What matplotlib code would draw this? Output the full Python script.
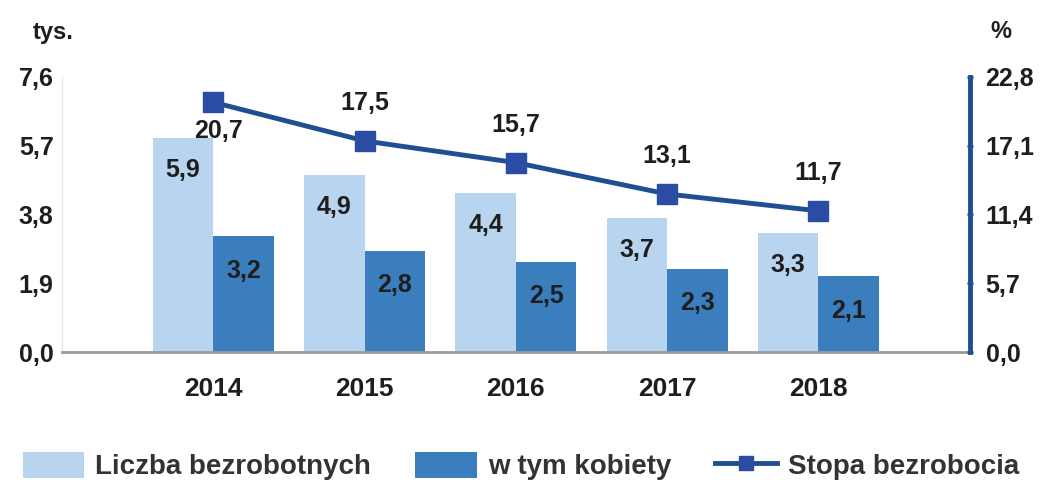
import matplotlib
matplotlib.use("Agg")
import matplotlib.pyplot as plt
from matplotlib.patches import Patch
from matplotlib.lines import Line2D

years = ["2014", "2015", "2016", "2017", "2018"]
bezrobotni = [5.9, 4.9, 4.4, 3.7, 3.3]
kobiety = [3.2, 2.8, 2.5, 2.3, 2.1]
stopa = [20.7, 17.5, 15.7, 13.1, 11.7]
left_ticks = [0.0, 1.9, 3.8, 5.7, 7.6]
right_ticks = [0.0, 5.7, 11.4, 17.1, 22.8]

def fmt(v):
    return f"{v:.1f}".replace(".", ",")

LIGHT = "#b9d4ee"
DARK = "#3b7ebe"
LINE = "#1f4f91"
MARK = "#2b4ca3"
TXT = "#1e1e1e"

plt.rcParams['font.family'] = ['Liberation Sans', 'DejaVu Sans']

fig = plt.figure(figsize=(10.46, 4.84), dpi=100)
ax = fig.add_axes([0.0593, 0.2727, 0.8677, 0.5683])
ax2 = ax.twinx()

x = list(range(len(years)))
w = 0.4
xl = [i - w / 2 for i in x]
xd = [i + w / 2 for i in x]
ax.bar(xl, bezrobotni, width=w, color=LIGHT, zorder=2)
ax.bar(xd, kobiety, width=w, color=DARK, zorder=2)

for xi, v in zip(xl, bezrobotni):
    ax.annotate(fmt(v), (xi, v), xytext=(0, -23), textcoords="offset points",
                ha="center", va="center", fontsize=18, fontweight="bold", color=TXT)
for xi, v in zip(xd, kobiety):
    ax.annotate(fmt(v), (xi, v), xytext=(0, -25), textcoords="offset points",
                ha="center", va="center", fontsize=18, fontweight="bold", color=TXT)

ax2.plot(x, stopa, color=LINE, lw=3.5, marker="s", markersize=14,
         markerfacecolor=MARK, markeredgecolor=MARK, zorder=5)
for i, v in enumerate(stopa):
    if i == 0:
        off = (4, -21)
    else:
        off = (0, 27)
    ax2.annotate(fmt(v), (i, v), xytext=off, textcoords="offset points",
                 ha="center", va="center", fontsize=18, fontweight="bold", color=TXT)

ax.set_xlim(-1, 5)
ax.set_ylim(0, 7.6)
ax2.set_ylim(0, 22.8)
ax.set_xticks(x)
ax.set_xticklabels(years, fontsize=19, fontweight="bold", color=TXT)
ax.set_yticks(left_ticks)
ax.set_yticklabels([fmt(t) for t in left_ticks], fontsize=18, fontweight="bold", color=TXT)
ax2.set_yticks(right_ticks)
ax2.set_yticklabels([fmt(t) for t in right_ticks], fontsize=18, fontweight="bold", color=TXT)

ax.tick_params(axis="x", length=0, pad=18)
ax.tick_params(axis="y", length=0, pad=6)
ax2.tick_params(axis="y", length=5, width=2, direction="inout", color=LINE, pad=9)

for s in ["top", "right"]:
    ax.spines[s].set_visible(False)
ax.spines["left"].set_color("#e6e6e6")
ax.spines["left"].set_linewidth(1)
ax.spines["bottom"].set_color("#9a9a9a")
ax.spines["bottom"].set_linewidth(2)
for s in ["top", "left", "bottom"]:
    ax2.spines[s].set_visible(False)
ax2.spines["right"].set_color(LINE)
ax2.spines["right"].set_linewidth(3.5)

fig.text(33 / 1046, 1 - 32 / 484, "tys.", fontsize=17, fontweight="bold", color=TXT,
         ha="left", va="center")
fig.text(990 / 1046, 1 - 32 / 484, "%", fontsize=17, fontweight="bold", color=TXT,
         ha="left", va="center")

handles = [
    Patch(facecolor=LIGHT, edgecolor="none"),
    Patch(facecolor=DARK, edgecolor="none"),
    Line2D([], [], color=LINE, lw=3.5, marker="s", markersize=10,
           markerfacecolor=MARK, markeredgecolor=MARK),
]
labels = ["Liczba bezrobotnych", "w tym kobiety", "Stopa bezrobocia"]
leg = fig.legend(handles, labels, loc="center", bbox_to_anchor=(0.498, 1 - 466 / 484),
                 ncol=3, frameon=False, handlelength=2.2, handleheight=1.1,
                 columnspacing=1.6, handletextpad=0.4,
                 prop={"family": ["Liberation Sans"], "size": 20, "weight": "bold"})
for t in leg.get_texts():
    t.set_color("#333333")

fig.savefig("out.png", dpi=100)
